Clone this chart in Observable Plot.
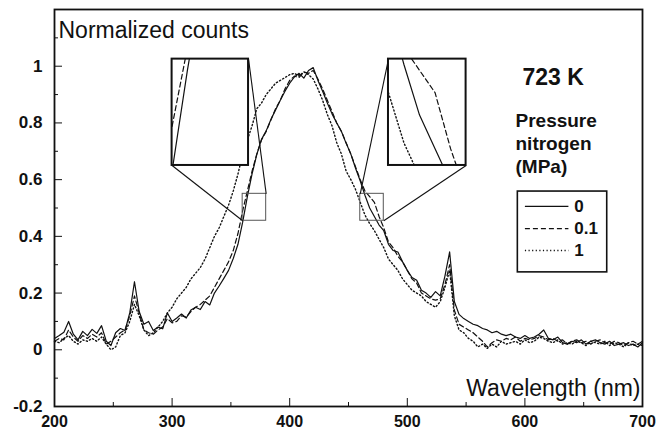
<!DOCTYPE html>
<html><head><meta charset="utf-8">
<script src="https://cdn.jsdelivr.net/npm/d3@7"></script>
<script src="https://cdn.jsdelivr.net/npm/@observablehq/plot@0.6"></script>
<style>body{margin:0;background:#fff}</style>
</head><body><div id="chart"></div>
<script>
// ---- data ----
const wavelength = [200,204,208,212,216,220,224,228,232,236,240,244,248,252,256,260,264,268,272,276,
280,284,288,292,296,300,304,308,312,316,320,324,328,332,336,340,344,348,352,356,
360,364,368,372,376,380,384,388,392,396,400,404,408,412,416,420,424,428,432,436,
440,444,448,452,456,460,464,468,472,476,480,484,488,492,496,500,504,508,512,516,
520,524,528,532,536,540,544,548,552,556,560,564,568,572,576,580,584,588,592,596,
600,604,608,612,616,620,624,628,632,636,640,644,648,652,656,660,664,668,672,676,
680,684,688,692,696,700];
const counts_0 = [.040,.050,.062,.100,.055,.035,.065,.050,.072,.058,
.085,.030,.015,.060,.075,.068,.130,.240,.135,.090,
.100,.068,.080,.074,.130,.100,.112,.126,.112,.140,
.150,.142,.170,.158,.200,.225,.252,.280,.322,.372,
.450,.540,.620,.688,.742,.772,.812,.846,.880,.912,
.940,.962,.975,.958,.985,.995,.950,.912,.870,.832,
.800,.770,.728,.690,.640,.595,.545,.500,.470,.440,
.420,.372,.350,.345,.310,.280,.255,.245,.210,.200,
.185,.205,.190,.260,.345,.170,.125,.110,.100,.090,
.085,.075,.070,.060,.065,.055,.050,.055,.045,.040,
.050,.040,.045,.055,.070,.040,.035,.045,.025,.020,
.030,.025,.035,.020,.030,.035,.025,.020,.030,.015,
.020,.025,.015,.020,.010,.025];
const counts_01 = [.030,.040,.035,.070,.045,.030,.050,.040,.055,.045,
.060,.020,.030,.045,.060,.070,.120,.190,.130,.070,
.060,.055,.070,.080,.110,.095,.100,.120,.115,.135,
.150,.160,.175,.190,.220,.250,.280,.310,.350,.410,
.490,.560,.630,.690,.740,.770,.810,.850,.880,.920,
.950,.965,.960,.980,.975,.985,.955,.920,.880,.840,
.800,.770,.730,.690,.645,.600,.560,.540,.520,.470,
.430,.380,.360,.330,.310,.280,.250,.235,.200,.190,
.180,.175,.180,.230,.300,.140,.090,.080,.070,.060,
.045,.030,.010,.025,.035,.030,.040,.035,.045,.030,
.040,.035,.040,.050,.045,.035,.040,.030,.035,.020,
.030,.035,.025,.030,.020,.030,.035,.025,.020,.030,
.025,.015,.025,.030,.020,.030];
const counts_1 = [.030,.025,.040,.050,.030,.020,.035,.030,.040,.030,
.045,.020,.000,.010,.050,.060,.100,.160,.120,.070,
.050,.060,.080,.100,.130,.150,.180,.200,.220,.250,
.270,.290,.320,.360,.400,.430,.470,.510,.560,.620,
.690,.740,.790,.850,.870,.900,.920,.940,.950,.960,
.970,.975,.965,.980,.970,.955,.920,.880,.830,.790,
.730,.690,.630,.600,.565,.520,.475,.445,.420,.390,
.360,.320,.300,.280,.250,.230,.210,.200,.190,.170,
.160,.150,.170,.220,.280,.120,.070,.060,.040,.030,
.010,.020,.005,.020,.010,.030,.020,.025,.030,.020,
.035,.025,.030,.045,.040,.030,.025,.035,.020,.025,
.020,.030,.025,.015,.030,.025,.020,.030,.015,.025,
.020,.010,.025,.015,.020,.015];
const seriesNames = ["0", "0.1", "1"];
const seriesValues = [counts_0, counts_01, counts_1];
const xMajor = [200,300,400,500,600,700];
const xMinor = [250,350,450,550,650];
const yMajor = [-0.2,0,0.2,0.4,0.6,0.8,1];
const yMinor = [-0.1,0.1,0.3,0.5,0.7,0.9,1.1];
// zoomed regions and where their magnified view is drawn (data units)
const zoomBoxes = [{x1:360,x2:380,y1:0.455,y2:0.55},{x1:460,x2:480,y1:0.455,y2:0.55}];
const insetBoxes = [{x1:300,x2:365,y1:0.65,y2:1.025},{x1:484,x2:550,y1:0.65,y2:1.025}];
// legend placement (data units)
const legendBox = {x1:594,x2:670,y1:0.273,y2:0.558};
const legendRowY = [0.506,0.427,0.35];
const legendLineX = [600,637];
const legendLabelX = 642;

// ---- styling ----
const W = 656, H = 430, mL = 54, mR = 14, mT = 9, mB = 24;
const frameW = W - mL - mR, frameH = H - mT - mB;
const ink = "#111";
const dashes = [null, "5,3", "1.2,2.4"];
const widths = [1.2, 1.2, 1.4];

function series(k) { return wavelength.map((w, i) => ({x: w, y: seriesValues[k][i]})); }

function clipToBox(pts, b) {
  const out = []; let g = 0, open = false;
  for (let i = 0; i < pts.length - 1; i++) {
    const x0 = pts[i].x, y0 = pts[i].y, x1 = pts[i+1].x, y1 = pts[i+1].y;
    let t0 = 0, t1 = 1, ok = true;
    const dx = x1 - x0, dy = y1 - y0;
    const p = [-dx, dx, -dy, dy], q = [x0 - b.x1, b.x2 - x0, y0 - b.y1, b.y2 - y0];
    for (let k = 0; k < 4; k++) {
      if (p[k] === 0) { if (q[k] < 0) { ok = false; break; } }
      else {
        const r = q[k] / p[k];
        if (p[k] < 0) { if (r > t1) { ok = false; break; } if (r > t0) t0 = r; }
        else { if (r < t0) { ok = false; break; } if (r < t1) t1 = r; }
      }
    }
    if (!ok) { open = false; continue; }
    if (!open || t0 > 0) { g++; out.push({x: x0 + t0*dx, y: y0 + t0*dy, g}); }
    out.push({x: x0 + t1*dx, y: y0 + t1*dy, g});
    open = t1 === 1;
  }
  return out;
}
function toInset(pts, b, I) {
  return pts.map(d => ({
    x: I.x1 + (d.x - b.x1) * (I.x2 - I.x1) / (b.x2 - b.x1),
    y: I.y1 + (d.y - b.y1) * (I.y2 - I.y1) / (b.y2 - b.y1),
    g: d.g
  }));
}

const marks = [];
// ticks (inward)
marks.push(Plot.tickX(xMajor, {insetTop: frameH - 8, stroke: ink, strokeWidth: 1}));
marks.push(Plot.tickX(xMinor, {insetTop: frameH - 4, stroke: ink, strokeWidth: 1}));
marks.push(Plot.tickY(yMajor, {insetRight: frameW - 8, stroke: ink, strokeWidth: 1}));
marks.push(Plot.tickY(yMinor, {insetRight: frameW - 4, stroke: ink, strokeWidth: 1}));
// tick labels
marks.push(Plot.text(xMajor, {x: d => d, frameAnchor: "bottom", lineAnchor: "bottom", dy: 20,
  text: d => String(d), fontSize: 16, fontWeight: "bold", fill: ink}));
marks.push(Plot.text(yMajor, {y: d => d, frameAnchor: "left", textAnchor: "end", dx: -12,
  text: d => String(d), fontSize: 17, fontWeight: "bold", fill: ink}));

// main curves
seriesNames.forEach((name, k) => {
  marks.push(Plot.line(series(k), {x: "x", y: "y", stroke: ink, strokeWidth: widths[k],
    strokeDasharray: dashes[k] || undefined, strokeLinejoin: "round"}));
});

// zoom boxes & connectors
marks.push(Plot.rect(zoomBoxes, {x1: "x1", x2: "x2", y1: "y1", y2: "y2", fill: "none", stroke: "#555", strokeWidth: 1}));
const zb0 = zoomBoxes[0], zb1 = zoomBoxes[1], ib0 = insetBoxes[0], ib1 = insetBoxes[1];
const connectors = [
  {x1: ib0.x1, y1: ib0.y1, x2: zb0.x1, y2: zb0.y1},
  {x1: ib0.x2, y1: ib0.y2, x2: zb0.x2, y2: zb0.y2},
  {x1: ib1.x1, y1: ib1.y2, x2: zb1.x1, y2: zb1.y2},
  {x1: ib1.x2, y1: ib1.y1, x2: zb1.x2, y2: zb1.y1}
];
marks.push(Plot.link(connectors, {x1: "x1", y1: "y1", x2: "x2", y2: "y2", stroke: ink, strokeWidth: 1.1}));
marks.push(Plot.rect(insetBoxes, {x1: "x1", x2: "x2", y1: "y1", y2: "y2", fill: "#fff", stroke: ink, strokeWidth: 2}));
// inset contents
insetBoxes.forEach((I, j) => {
  seriesNames.forEach((name, k) => {
    const pts = toInset(clipToBox(series(k), zoomBoxes[j]), zoomBoxes[j], I);
    marks.push(Plot.line(pts, {x: "x", y: "y", z: "g", stroke: ink, strokeWidth: widths[k],
      strokeDasharray: dashes[k] || undefined}));
  });
});

// legend
marks.push(Plot.rect([legendBox], {x1: "x1", x2: "x2", y1: "y1", y2: "y2", fill: "#fff", stroke: ink, strokeWidth: 1.6}));
seriesNames.forEach((name, k) => {
  marks.push(Plot.link([name], {x1: legendLineX[0], x2: legendLineX[1], y1: legendRowY[k], y2: legendRowY[k],
    stroke: ink, strokeWidth: widths[k], strokeDasharray: dashes[k] || undefined}));
});
marks.push(Plot.text(seriesNames, {x: legendLabelX, y: (d, i) => legendRowY[i], text: d => d,
  textAnchor: "start", fontSize: 17, fontWeight: "bold", fill: ink}));

// annotations
marks.push(Plot.text(["Normalized counts"], {frameAnchor: "top-left", textAnchor: "start", lineAnchor: "bottom",
  dx: 4, dy: 28, fontSize: 23, fontWeight: "normal", fill: ink}));
marks.push(Plot.text(["Wavelength (nm)"], {frameAnchor: "bottom-right", textAnchor: "end", lineAnchor: "bottom",
  dx: -2, dy: -11, fontSize: 23, fontWeight: "normal", fill: ink}));
marks.push(Plot.text(["723 K"], {frameAnchor: "top-left", textAnchor: "start", lineAnchor: "bottom",
  dx: 468, dy: 75, fontSize: 23, fontWeight: "bold", fill: ink}));
marks.push(Plot.text(["Pressure\nnitrogen\n(MPa)"], {frameAnchor: "top-left", textAnchor: "start", lineAnchor: "bottom",
  dx: 461, dy: 163, fontSize: 19, lineHeight: 23/19, fontWeight: "bold", fill: ink}));

marks.push(Plot.frame({stroke: ink, strokeWidth: 1.8}));

const chart = Plot.plot({
  width: W, height: H,
  marginLeft: mL, marginRight: mR, marginTop: mT, marginBottom: mB,
  style: {fontFamily: "'Liberation Sans', Arial, Helvetica, sans-serif", fontSize: "17px", color: ink, background: "#fff"},
  x: {domain: [200, 700], axis: null},
  y: {domain: [-0.2, 1.2], axis: null},
  marks
});
document.getElementById("chart").appendChild(chart);
</script>
</body></html>
